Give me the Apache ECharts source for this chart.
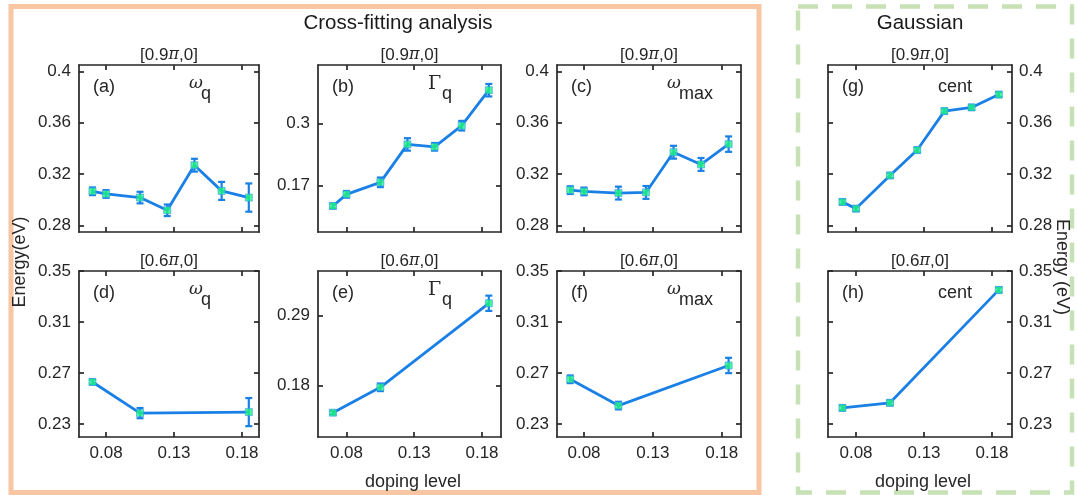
<!DOCTYPE html>
<html>
<head>
<meta charset="utf-8">
<script src="https://cdn.jsdelivr.net/npm/echarts@6/dist/echarts.min.js"></script>
<style>html,body{margin:0;padding:0;background:#fff}#c{width:1078px;height:495px}</style>
</head>
<body>
<div id="c"></div>
<script>
// ---------- data ----------
const dopingTop = [0.07, 0.08, 0.105, 0.125, 0.145, 0.165, 0.185];
const dopingBottom = [0.07, 0.105, 0.185];

const omegaQ09 = [0.3067, 0.3046, 0.3018, 0.2919, 0.3270, 0.3070, 0.3018];
const omegaQ09Err = [0.003, 0.003, 0.0045, 0.0045, 0.005, 0.007, 0.011];
const gammaQ09 = [0.1277, 0.1520, 0.1770, 0.2560, 0.2510, 0.2950, 0.3690];
const gammaQ09Err = [0.005, 0.007, 0.010, 0.013, 0.008, 0.010, 0.013];
const omegaMax09 = [0.3076, 0.3066, 0.3053, 0.3058, 0.3371, 0.3276, 0.3434];
const omegaMax09Err = [0.003, 0.003, 0.005, 0.005, 0.005, 0.005, 0.006];
const cent09 = [0.2984, 0.2932, 0.3190, 0.3388, 0.3691, 0.3720, 0.3820];
const cent09Err = [0.002, 0.002, 0.002, 0.002, 0.002, 0.002, 0.002];

const omegaQ06 = [0.2631, 0.2387, 0.2395];
const omegaQ06Err = [0.002, 0.004, 0.011];
const gammaQ06 = [0.1376, 0.1775, 0.3095];
const gammaQ06Err = [0.003, 0.006, 0.012];
const omegaMax06 = [0.2652, 0.2446, 0.2760];
const omegaMax06Err = [0.003, 0.003, 0.006];
const cent06 = [0.2428, 0.2468, 0.3352];
const cent06Err = [0.002, 0.002, 0.002];

const xTicks = [0.08, 0.13, 0.18];
const yTicksUpper = [0.28, 0.32, 0.36, 0.4];
const yTicksLower = [0.23, 0.27, 0.31, 0.35];
const yTicksGamma09 = [0.17, 0.3];
const yTicksGamma06 = [0.18, 0.29];

const panelTitleTop = '0.9';
const panelTitleBottom = '0.6';
const mainTitle = 'Cross-fitting analysis';
const sideTitle = 'Gaussian';
const xName = 'doping level';
const yNameLeft = 'Energy(eV)';
const yNameRight = 'Energy (eV)';

// ---------- layout ----------
const colLeft = [79, 318, 557, 828];
const colWidth = [180, 183, 184, 184];
const rowTop = [65, 271];
const rowHeight = [167, 166];
const xRange = [[0.0601, 0.1925], [0.059, 0.194], [0.0604, 0.194], [0.0594, 0.1947]];

const panels = [
  {row:0,col:0,x:dopingTop,y:omegaQ09,e:omegaQ09Err,yr:[0.275,0.405],yt:yTicksUpper,tag:'(a)',sym:'ω',sub:'q',italic:true},
  {row:0,col:1,x:dopingTop,y:gammaQ09,e:gammaQ09Err,yr:[0.0735,0.4215],yt:yTicksGamma09,tag:'(b)',sym:'Γ',sub:'q',italic:false},
  {row:0,col:2,x:dopingTop,y:omegaMax09,e:omegaMax09Err,yr:[0.275,0.405],yt:yTicksUpper,tag:'(c)',sym:'ω',sub:'max',italic:true},
  {row:0,col:3,x:dopingTop,y:cent09,e:cent09Err,yr:[0.275,0.405],yt:yTicksUpper,tag:'(g)',sym:'cent',sub:'',italic:false},
  {row:1,col:0,x:dopingBottom,y:omegaQ06,e:omegaQ06Err,yr:[0.22,0.35],yt:yTicksLower,tag:'(d)',sym:'ω',sub:'q',italic:true},
  {row:1,col:1,x:dopingBottom,y:gammaQ06,e:gammaQ06Err,yr:[0.0994,0.3602],yt:yTicksGamma06,tag:'(e)',sym:'Γ',sub:'q',italic:false},
  {row:1,col:2,x:dopingBottom,y:omegaMax06,e:omegaMax06Err,yr:[0.22,0.35],yt:yTicksLower,tag:'(f)',sym:'ω',sub:'max',italic:true},
  {row:1,col:3,x:dopingBottom,y:cent06,e:cent06Err,yr:[0.22,0.35],yt:yTicksLower,tag:'(h)',sym:'cent',sub:'',italic:false}
];

const FONT = '"Liberation Sans", Arial, Helvetica, sans-serif';
const TXT = '#262626';
const AX = '#262626';
const BLUE = '#1a80e6';
const GREEN = '#1ff57f';
const fmt = v => String(Math.round(v * 100) / 100);

const grids = [], xAxes = [], yAxes = [], series = [], graphics = [];

panels.forEach((p, i) => {
  const left = colLeft[p.col], top = rowTop[p.row], w = colWidth[p.col], h = rowHeight[p.row];
  grids.push({left: left, top: top, width: w, height: h, containLabel: false});
  const lineStyle = {color: AX, width: 1.7};
  const tickBase = {show: true, inside: true, length: 5, lineStyle: {color: AX, width: 1.7}};
  xAxes.push({
    type: 'value', gridIndex: i, position: 'bottom', min: xRange[p.col][0], max: xRange[p.col][1],
    axisLine: {show: true, onZero: false, lineStyle: lineStyle},
    axisTick: Object.assign({}, tickBase, {customValues: xTicks}),
    axisLabel: {show: p.row === 1, customValues: xTicks, formatter: fmt, margin: 8, fontFamily: FONT, fontSize: 17, color: TXT},
    splitLine: {show: false}
  });
  xAxes.push({
    type: 'value', gridIndex: i, position: 'top', min: xRange[p.col][0], max: xRange[p.col][1],
    axisLine: {show: true, onZero: false, lineStyle: lineStyle},
    axisTick: Object.assign({}, tickBase, {customValues: xTicks}),
    axisLabel: {show: false}, splitLine: {show: false}
  });
  yAxes.push({
    type: 'value', gridIndex: i, position: 'left', min: p.yr[0], max: p.yr[1],
    axisLine: {show: true, onZero: false, lineStyle: lineStyle},
    axisTick: Object.assign({}, tickBase, {customValues: p.yt}),
    axisLabel: {show: p.col < 3, customValues: p.yt, formatter: fmt, margin: 8, fontFamily: FONT, fontSize: 17, color: TXT},
    splitLine: {show: false}
  });
  yAxes.push({
    type: 'value', gridIndex: i, position: 'right', min: p.yr[0], max: p.yr[1],
    axisLine: {show: true, onZero: false, lineStyle: lineStyle},
    axisTick: Object.assign({}, tickBase, {customValues: p.yt}),
    axisLabel: {show: p.col === 3, customValues: p.yt, formatter: fmt, margin: 7, fontFamily: FONT, fontSize: 17, color: TXT},
    splitLine: {show: false}
  });

  const pts = p.x.map((xv, k) => [xv, p.y[k], p.e[k]]);
  series.push({
    type: 'line', xAxisIndex: 2 * i, yAxisIndex: 2 * i, data: pts.map(d => [d[0], d[1]]),
    lineStyle: {color: BLUE, width: 2.8}, symbol: 'none', z: 2, silent: true, animation: false
  });
  series.push({
    type: 'custom', xAxisIndex: 2 * i, yAxisIndex: 2 * i, data: pts, z: 3, silent: true, animation: false, clip: false,
    renderItem: function (params, api) {
      const x = api.value(0), y = api.value(1), e = api.value(2);
      const t = api.coord([x, y + e]), b = api.coord([x, y - e]);
      const c = 3.5;
      const st = {stroke: BLUE, lineWidth: 2.2};
      return {type: 'group', children: [
        {type: 'line', shape: {x1: t[0], y1: t[1], x2: b[0], y2: b[1]}, style: st},
        {type: 'line', shape: {x1: t[0] - c, y1: t[1], x2: t[0] + c, y2: t[1]}, style: st},
        {type: 'line', shape: {x1: b[0] - c, y1: b[1], x2: b[0] + c, y2: b[1]}, style: st}
      ]};
    }
  });
  series.push({
    type: 'scatter', xAxisIndex: 2 * i, yAxisIndex: 2 * i, data: pts.map(d => [d[0], d[1]]),
    symbol: 'rect', symbolSize: [7, 7], z: 4, silent: true, animation: false,
    itemStyle: {color: GREEN, borderColor: '#3a9af0', borderWidth: 0.8}
  });

  const tv = p.row === 0 ? panelTitleTop : panelTitleBottom;
  graphics.push({
    type: 'text', x: left + w / 2, y: top - 10,
    style: {
      text: '{n|[' + tv + '}{p|π}{n|,0]}', align: 'center', verticalAlign: 'middle',
      rich: {n: {fontFamily: FONT, fontSize: 17, fill: TXT}, p: {fontFamily: '"DejaVu Serif", serif', fontStyle: 'italic', fontSize: 16, fill: TXT}}
    }
  });
  graphics.push({type: 'text', x: left + 14, y: top + 22, style: {text: p.tag, fontFamily: FONT, fontSize: 18, fill: TXT, verticalAlign: 'middle'}});
  if (p.sym === 'cent') {
    graphics.push({type: 'text', x: left + 110, y: top + 22, style: {text: 'cent', fontFamily: FONT, fontSize: 18, fill: TXT, verticalAlign: 'middle'}});
  } else {
    const sx = left + 110;
    graphics.push({type: 'text', x: sx, y: top + 19, style: {
      text: p.sym, fontFamily: '"DejaVu Serif", "Times New Roman", serif',
      fontStyle: p.italic ? 'italic' : 'normal', fontSize: p.italic ? 17 : 19, fill: TXT, verticalAlign: 'middle'}});
    graphics.push({type: 'text', x: sx + (p.italic ? 12 : 14), y: top + 29, style: {
      text: p.sub, fontFamily: FONT, fontSize: 18, fill: TXT, verticalAlign: 'middle'}});
  }
});

graphics.push({type: 'rect', shape: {x: 11, y: 6.5, width: 748, height: 486}, style: {fill: 'none', stroke: '#f8c6a2', lineWidth: 5}, z: 0});
graphics.push({type: 'rect', shape: {x: 798, y: 6.5, width: 274, height: 486}, style: {fill: 'none', stroke: '#c6e1b5', lineWidth: 4.5, lineDash: [20, 14]}, z: 0});
graphics.push({type: 'text', x: 398, y: 23, style: {text: mainTitle, fontFamily: FONT, fontSize: 20.5, fill: '#1a1a1a', align: 'center', verticalAlign: 'middle'}});
graphics.push({type: 'text', x: 920, y: 23, style: {text: sideTitle, fontFamily: FONT, fontSize: 20.5, fill: '#1a1a1a', align: 'center', verticalAlign: 'middle'}});
graphics.push({type: 'text', x: 413, y: 482, style: {text: xName, fontFamily: FONT, fontSize: 18, fill: TXT, align: 'center', verticalAlign: 'middle'}});
graphics.push({type: 'text', x: 923, y: 482, style: {text: xName, fontFamily: FONT, fontSize: 18, fill: TXT, align: 'center', verticalAlign: 'middle'}});
graphics.push({type: 'text', x: 20, y: 262, rotation: Math.PI / 2, style: {text: yNameLeft, fontFamily: FONT, fontSize: 18, fill: TXT, align: 'center', verticalAlign: 'middle'}});
graphics.push({type: 'text', x: 1062, y: 267, rotation: -Math.PI / 2, style: {text: yNameRight, fontFamily: FONT, fontSize: 18, fill: TXT, align: 'center', verticalAlign: 'middle'}});

const chart = echarts.init(document.getElementById('c'), null, {renderer: 'canvas'});
chart.setOption({
  animation: false,
  backgroundColor: '#fff',
  grid: grids, xAxis: xAxes, yAxis: yAxes, series: series,
  graphic: graphics
});
</script>
</body>
</html>
